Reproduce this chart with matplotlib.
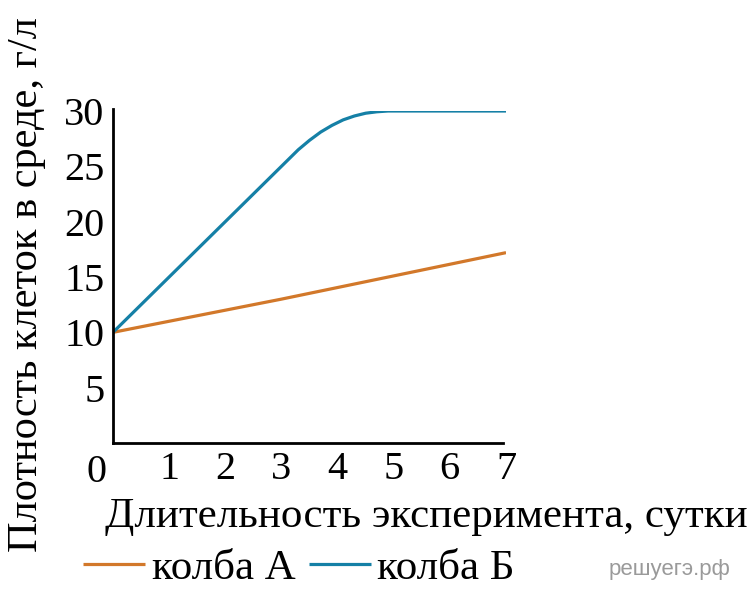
import matplotlib
matplotlib.use('Agg')
import matplotlib.pyplot as plt

plt.rcParams['font.family'] = ['Liberation Serif', 'DejaVu Serif']

# data
days = [0, 1, 2, 3, 7]
flask_a = [10, 11, 12, 13, 17.2]
days_b = [0, 1, 2, 3, 3.15, 3.3, 3.5, 3.7, 3.9, 4.1, 4.3, 4.5, 4.7, 4.9, 6, 7]
flask_b = [10, 15, 20, 25, 25.75, 26.5, 27.35, 28.1, 28.7, 29.2, 29.55, 29.8, 29.93, 30, 30, 30]
x_ticks = [1, 2, 3, 4, 5, 6, 7]
y_ticks = [5, 10, 15, 20, 25, 30]

orange = '#d2782a'
blue = '#1580a6'

W, H = 751, 599
fig = plt.figure(figsize=(W / 100, H / 100), dpi=100)
ax = fig.add_axes([113 / W, (H - 443) / H, (506 - 113) / W, (443 - 111) / H])

ax.plot(days, flask_a, color=orange, lw=2.3, label='колба А', solid_capstyle='butt')
ax.plot(days_b, flask_b, color=blue, lw=2.3, label='колба Б',
        solid_capstyle='butt', solid_joinstyle='round')

ax.set_xlim(0, 7)
ax.set_ylim(0, 30)
ax.set_xticks(x_ticks)
ax.set_yticks(y_ticks)
ax.tick_params(length=0, labelsize=29, pad=6)
for s in ['top', 'right']:
    ax.spines[s].set_visible(False)
for s in ['left', 'bottom']:
    ax.spines[s].set_linewidth(2)
ax.spines['left'].set_bounds(0, 30.2)
ax.spines['bottom'].set_bounds(0, 6.95)

ax.annotate('0', xy=(0, 0), xytext=(-12, -8), textcoords='offset points',
            fontsize=29, ha='center', va='top')

fig.text(426 / W, 1 - 517 / H, 'Длительность эксперимента, сутки',
         fontsize=31, ha='center', va='center')
fig.text(27 / W, 1 - 285 / H, 'Плотность клеток в среде, г/л',
         fontsize=30.5, ha='center', va='center', rotation=90)

fig.legend(loc='center', bbox_to_anchor=(299 / W, 1 - 568 / H), ncol=2,
           frameon=False, fontsize=31, handlelength=1.45, handletextpad=0.15,
           columnspacing=0.3, borderpad=0)

fig.text(730 / W, 1 - 570 / H, 'решуегэ.рф', fontsize=16, color='#9a9a9a',
         ha='right', va='center', family='Liberation Sans')

fig.savefig('out.png', dpi=100)
